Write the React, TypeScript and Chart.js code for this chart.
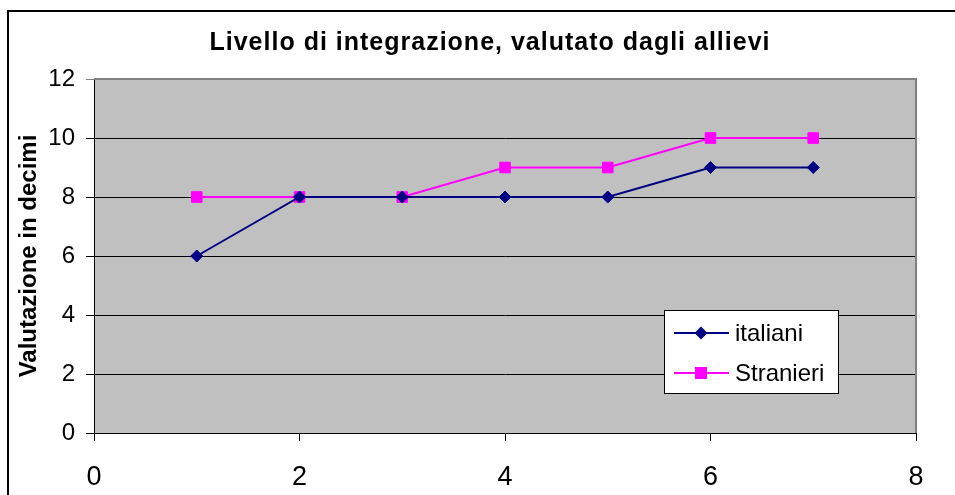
import React, { useEffect, useRef } from "react";
import { Chart, registerables } from "chart.js";

Chart.register(...registerables);

const TITLE = "Livello di integrazione, valutato dagli allievi";
const Y_TITLE = "Valutazione in decimi";
const X_VALUES = [1, 2, 3, 4, 5, 6, 7];
const ITALIANI = [6, 8, 8, 8, 8, 9, 9];
const STRANIERI = [8, 8, 8, 9, 9, 10, 10];
const SERIES_NAMES = ["italiani", "Stranieri"];
const X_MIN = 0, X_MAX = 8, X_STEP = 2;
const Y_MIN = 0, Y_MAX = 12, Y_STEP = 2;

const NAVY = "#000080";
const MAGENTA = "#FF00FF";
const FONT = "Arial, 'Liberation Sans', sans-serif";

const decorPlugin = {
  id: "decor",
  beforeDraw(chart: any) {
    const { ctx, chartArea } = chart;
    ctx.save();
    ctx.fillStyle = "#ffffff";
    ctx.fillRect(0, 0, chart.width, chart.height);
    ctx.strokeStyle = "#000000";
    ctx.lineWidth = 2;
    ctx.strokeRect(8, 11, chart.width + 20, chart.height + 20);
    ctx.fillStyle = "#C0C0C0";
    ctx.fillRect(chartArea.left, chartArea.top, chartArea.right - chartArea.left, chartArea.bottom - chartArea.top);
    ctx.restore();
  },
  afterDatasetsDraw(chart: any) {
    const { ctx, chartArea } = chart;
    ctx.save();
    ctx.strokeStyle = "#808080";
    ctx.lineWidth = 2;
    ctx.beginPath();
    ctx.moveTo(chartArea.left, chartArea.top);
    ctx.lineTo(chartArea.right, chartArea.top);
    ctx.lineTo(chartArea.right, chartArea.bottom);
    ctx.stroke();

    ctx.fillStyle = "#000";
    ctx.font = `bold 25px ${FONT}`;
    (ctx as any).letterSpacing = "1px";
    ctx.textAlign = "center";
    ctx.textBaseline = "middle";
    ctx.fillText(TITLE, 490, 43);
    (ctx as any).letterSpacing = "0px";

    ctx.save();
    ctx.font = `bold 24px ${FONT}`;
    ctx.translate(29, 256);
    ctx.rotate(-Math.PI / 2);
    ctx.fillText(Y_TITLE, 0, 0);
    ctx.restore();

    const lx = 664, ly = 310, lw = 174, lh = 83;
    ctx.fillStyle = "#ffffff";
    ctx.fillRect(lx, ly, lw, lh);
    ctx.strokeStyle = "#000";
    ctx.lineWidth = 1;
    ctx.strokeRect(lx + 0.5, ly + 0.5, lw, lh);
    const ds = chart.data.datasets;
    const rows = [333, 373];
    ds.forEach((d: any, i: number) => {
      const y = rows[i];
      ctx.strokeStyle = d.borderColor;
      ctx.lineWidth = 2;
      ctx.beginPath();
      ctx.moveTo(674, y);
      ctx.lineTo(729, y);
      ctx.stroke();
      ctx.fillStyle = d.backgroundColor;
      const cx = 701;
      if (d.pointStyle === "rectRot") {
        ctx.beginPath();
        ctx.moveTo(cx, y - 6.5);
        ctx.lineTo(cx + 6.5, y);
        ctx.lineTo(cx, y + 6.5);
        ctx.lineTo(cx - 6.5, y);
        ctx.closePath();
        ctx.fill();
      } else {
        ctx.fillRect(cx - 6, y - 6, 12, 12);
      }
      ctx.fillStyle = "#000";
      ctx.font = `24px ${FONT}`;
      ctx.textAlign = "left";
      ctx.textBaseline = "middle";
      ctx.fillText(d.label, 735, y + 1);
    });
    ctx.restore();
  },
};

export default function App() {
  const ref = useRef<HTMLCanvasElement | null>(null);
  useEffect(() => {
    if (!ref.current) return;
    const chart = new Chart(ref.current, {
      type: "line",
      data: {
        datasets: [
          {
            label: SERIES_NAMES[0],
            data: X_VALUES.map((x, i) => ({ x, y: ITALIANI[i] })),
            borderColor: NAVY,
            backgroundColor: NAVY,
            borderWidth: 2,
            pointStyle: "rectRot",
            pointRadius: 6,
            pointBorderWidth: 1,
            pointBorderColor: NAVY,
            pointBackgroundColor: NAVY,
          },
          {
            label: SERIES_NAMES[1],
            data: X_VALUES.map((x, i) => ({ x, y: STRANIERI[i] })),
            borderColor: MAGENTA,
            backgroundColor: MAGENTA,
            borderWidth: 2,
            pointStyle: "rect",
            pointRadius: 7.5,
            pointBorderWidth: 1,
            pointBorderColor: MAGENTA,
            pointBackgroundColor: MAGENTA,
          },
        ],
      },
      options: {
        animation: false,
        responsive: false,
        maintainAspectRatio: false,
        layout: { padding: { left: 0, top: 79, right: 39, bottom: 0 } },
        plugins: {
          legend: { display: false },
          title: { display: false },
          tooltip: { enabled: false },
        },
        scales: {
          x: {
            type: "linear",
            min: X_MIN,
            max: X_MAX,
            ticks: {
              stepSize: X_STEP,
              color: "#000",
              font: { family: FONT, size: 27 },
              padding: 20,
            },
            grid: { drawOnChartArea: false, color: "#000", tickLength: 8, lineWidth: 1 },
            border: { display: true, color: "#000", width: 1 },
            afterFit: (s: any) => { s.height = 62; },
          },
          y: {
            type: "linear",
            min: Y_MIN,
            max: Y_MAX,
            ticks: {
              stepSize: Y_STEP,
              color: "#000",
              font: { family: FONT, size: 24 },
              padding: 11,
            },
            grid: {
              color: (c: any) => (c.tick && c.tick.value === Y_MAX ? "#808080" : "#000"),
              tickLength: 8,
              lineWidth: 1,
            },
            border: { display: true, color: "#000", width: 1 },
            afterFit: (s: any) => { s.width = 94; },
          },
        },
      },
      plugins: [decorPlugin],
    });
    return () => chart.destroy();
  }, []);
  return (
    <div style={{ position: "absolute", left: 0, top: 0, width: 955, height: 495 }}>
      <canvas ref={ref} width={955} height={495} style={{ display: "block" }} />
    </div>
  );
}
